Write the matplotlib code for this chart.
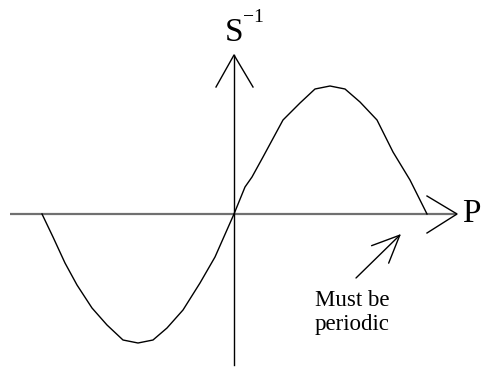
import matplotlib.pyplot as plt

# curve (origin at the axes crossing, y up)
curve_x = [-192, -181, -169, -157, -142, -127, -111, -96, -81, -67, -51, -34, -19, 0,
           11, 18, 29, 49, 66, 81, 96, 111, 126, 143, 159, 176, 193]
curve_y = [0, -23, -49, -71, -94, -111, -126, -129, -126, -114, -96, -69, -43, 0,
           27, 37, 57, 94, 111, 125, 128, 125, 112, 94, 62, 34, 0]

x_label = 'P'
y_label = 'S'
y_power = '\u22121'
note = 'Must be\nperiodic'

plt.rcParams['font.family'] = ['Liberation Serif', 'DejaVu Serif']

fig = plt.figure(figsize=(4.83, 3.73), dpi=100)
ax = fig.add_axes([0, 0, 1, 1])
ax.set_xlim(-234, 249)
ax.set_ylim(-159, 214)
ax.axis('off')

# axes with open arrowheads
ax.plot([-224, 223], [0, 0], color='#707070', lw=1.6, solid_capstyle='butt')
ax.plot([193, 223, 193], [18, 0, -19], color='black', lw=1)
ax.plot([0, 0], [-151, 159], color='black', lw=1)
ax.plot([-18, 0, 19], [127, 159, 127], color='black', lw=1)

ax.plot(curve_x, curve_y, color='black', lw=1)

# labels
ax.text(228, 0, x_label, fontsize=24, ha='left', va='center')
ax.text(0, 166, y_label, fontsize=24, ha='center', va='bottom')
ax.text(9, 188, y_power, fontsize=14, ha='left', va='bottom')

# note with arrow
ax.annotate('', xy=(167, -20), xytext=(122, -64),
            arrowprops=dict(arrowstyle='->,head_length=0.9,head_width=0.4',
                            color='black', lw=1, mutation_scale=22,
                            shrinkA=0, shrinkB=0))
ax.text(118, -76, note, fontsize=16.5, ha='center', va='top',
        linespacing=1.2, multialignment='center')

fig.savefig('out.png', dpi=100)
